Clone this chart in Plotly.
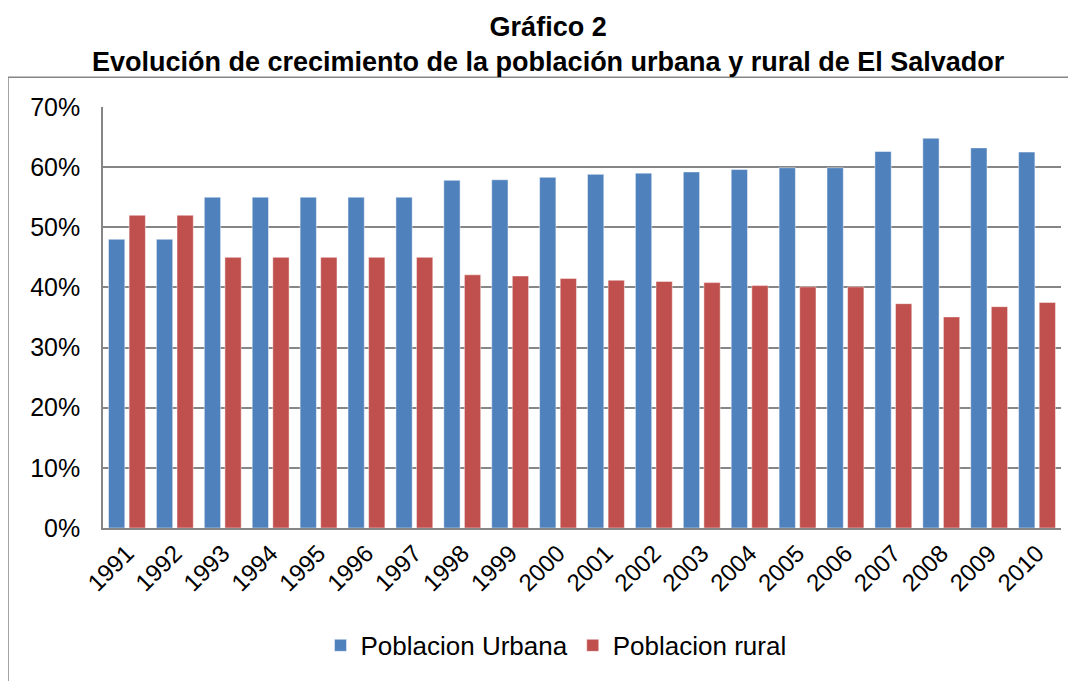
import plotly.graph_objects as go

years = [str(y) for y in range(1991, 2011)]
urbana = [48.0, 48.0, 55.0, 55.0, 55.0, 55.0, 55.0, 57.8, 57.9, 58.3, 58.8, 59.0, 59.2, 59.6, 59.9, 59.9, 62.6, 64.8, 63.2, 62.5]
rural = [52.0, 52.0, 45.0, 45.0, 45.0, 45.0, 45.0, 42.1, 41.9, 41.5, 41.2, 41.0, 40.8, 40.3, 40.1, 40.1, 37.3, 35.1, 36.8, 37.5]
y_ticks = [0, 10, 20, 30, 40, 50, 60, 70]
y_labels = [f"{v}%" for v in y_ticks]
title_lines = ["Gráfico 2", "Evolución de crecimiento de la población urbana y rural de El Salvador"]

# page has an 8px body margin; work in page pixels and convert
OFF = 8
W, H = 1076 - OFF, 681 - OFF
PX0, PX1, PY0, PY1 = 103, 1061, 107, 530  # plot area in page pixels
L, R, T, B = PX0 - OFF, 1076 - PX1, PY0 - OFF, 681 - PY1
pw, ph = PX1 - PX0, PY1 - PY0

def px_x(p):
    return (p - PX0) / pw

def px_y(p):
    return (PY1 - p) / ph

fig = go.Figure()
fig.add_trace(go.Bar(x=years, y=urbana, name="Poblacion Urbana",
                     marker=dict(color="#4F81BD", line=dict(color="rgba(255,255,255,0.45)", width=1))))
fig.add_trace(go.Bar(x=years, y=rural, name="Poblacion rural",
                     marker=dict(color="#C0504D", line=dict(color="rgba(255,255,255,0.45)", width=1))))

fig.update_layout(
    width=W, height=H,
    margin=dict(l=L, r=R, t=T, b=B),
    paper_bgcolor="white", plot_bgcolor="white",
    barmode="group", bargap=0.14, bargroupgap=0.21,
    font=dict(family="Liberation Sans, Arial, sans-serif", color="black", size=24),
    showlegend=True,
    legend=dict(orientation="h", x=px_x(556), xanchor="center", y=px_y(648), yanchor="middle",
                font=dict(size=26), itemwidth=30, traceorder="normal"),
    xaxis=dict(tickangle=-45, showline=True, linecolor="#868686", linewidth=1.5,
               showgrid=False, ticks="", tickfont=dict(size=24)),
    yaxis=dict(range=[0, 70], tickvals=y_ticks, ticktext=y_labels, showgrid=True,
               gridcolor="#868686", gridwidth=1.5, showline=True, linecolor="#868686",
               linewidth=1.5, ticks="", tickfont=dict(size=25), zeroline=False, ticklabelstandoff=16),
    shapes=[dict(type="rect", xref="paper", yref="paper",
                 x0=px_x(8), x1=px_x(1075), y0=px_y(690), y1=px_y(77),
                 line=dict(color="#868686", width=1.5), fillcolor="rgba(0,0,0,0)", layer="below")],
    annotations=[
        dict(text="<br>".join(f"<b>{t}</b>" for t in title_lines), xref="paper", yref="paper",
             x=px_x(548), y=px_y(44), xanchor="center", yanchor="middle", align="center",
             showarrow=False, font=dict(size=27)),
    ],
)

fig.write_html("out.html")
